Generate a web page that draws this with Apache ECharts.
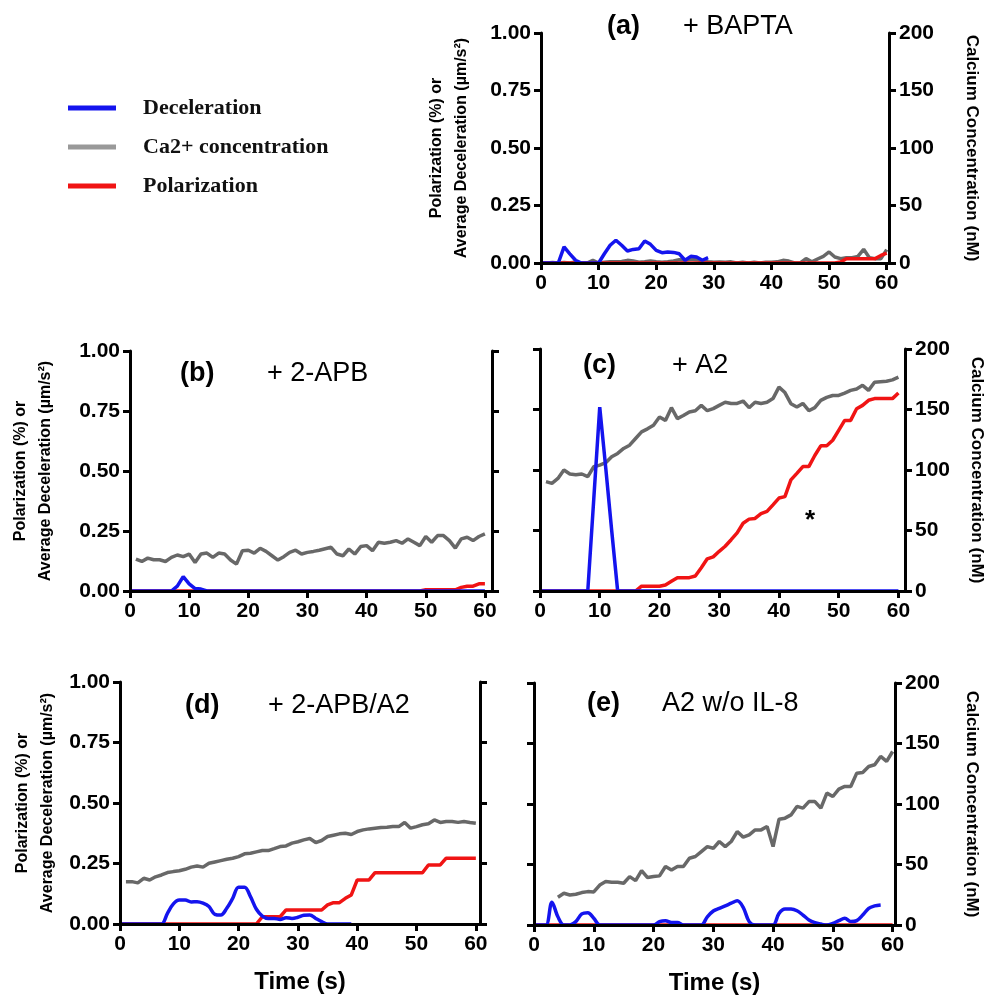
<!DOCTYPE html>
<html>
<head>
<meta charset="utf-8">
<script src="https://cdn.jsdelivr.net/npm/echarts@6/dist/echarts.min.js"></script>
<style>
  html, body { margin: 0; padding: 0; background: #fff; }
  #main { width: 987px; height: 996px; }
</style>
</head>
<body>
<div id="main"></div>
<script>
// time points (s), one per second
const seconds = [0,1,2,3,4,5,6,7,8,9,10,11,12,13,14,15,16,17,18,19,20,
  21,22,23,24,25,26,27,28,29,30,31,32,33,34,35,36,37,38,39,40,
  41,42,43,44,45,46,47,48,49,50,51,52,53,54,55,56,57,58,59,60];
const xTicks = [0, 10, 20, 30, 40, 50, 60];

// (a) + BAPTA
const aDecel = [0,0,0,0,0.07,0.04,0.012,0,0,0,0,0.04,0.077,0.099,0.077,0.052,0.059,0.062,0.096,0.081,0.055,
  0.045,0.048,0.046,0.04,0.012,0.029,0.026,0.012,0.023,null,null,null,null,null,null,null,null,null,null,null,
  null,null,null,null,null,null,null,null,null,null,null,null,null,null,null,null,null,null,null,null];
const aCalcium = [0,0,0.5,0,0.5,0,1,0,0,2.3,0,0.6,1,1,1.4,2.3,1.7,0.6,1,1.7,1,
  0.6,1,1.7,2.9,2.3,3.5,2.9,1.7,1,0.6,0.8,0.6,1,0,0.6,0,0.6,0,0.6,0.6,
  1,2.3,1.7,0,0,3.8,1,3.5,5.8,9.6,5.2,3.8,4.6,4.6,5.8,11.9,4.6,3.8,3.8,11.6];
const aPolar = [0,0,0,0,0,0,0,0,0,0,0,0,0,0,0,0,0,0,0,0,0,
  0,0,0,0,0,0,0,0,0,0,0,0,0,0,0,0,0,0,0,0,
  0,0,0,0,0,0,0,0,0,0,0,0.004,0.019,0.019,0.019,0.019,0.019,0.019,0.033,0.043];

// (b) + 2-APB
const bDecel = [0,0,0,0,0,0,0,0,0.02,0.06,0.03,0.01,0.008,0,0,0,0,0,0,0,0,
  0,0,0,0,0,0,0,0,0,0,0,0,0,0,0,0,0,0,0,0,
  0,0,0,0,0,0,0,0,0,0,0,0,0,0,0,0,0,0,0,0];
const bCalcium = [null,26.6,24.6,27.4,26,26,24.6,28,30,28.6,30.8,
  23.8,30.8,31.6,28,31.6,30.8,25.8,22.4,33.6,34,
  31.6,35.6,33,29.4,25.8,28.6,32.2,34,30.8,32.2,
  33,34,35.2,36.4,30.8,29.4,35,30.8,37,37.8,
  33.6,40.6,39.8,40.6,42,39.8,43.4,40.6,37.8,45.4,
  40.6,46.2,46.2,42,35.8,43.4,44.8,42,45.4,47.6];
const bPolar = [0,0,0,0,0,0,0,0,0,0,0,0,0,0,0,0,0,0,0,0,0,
  0,0,0,0,0,0,0,0,0,0,0,0,0,0,0,0,0,0,0,0,
  0,0,0,0,0,0,0,0,0,0.005,0.005,0.005,0.005,0.005,0.005,0.015,0.02,0.02,0.03,0.03];

// (c) + A2
const cDecel = [0,0,0,0,0,0,0,0,0,0.38,0.76,0.51,0.25,0,0,0,0,0,0,0,0,
  0,0,0,0,0,0,0,0,0,0,0,0,0,0,0,0,0,0,0,0,
  0,0,0,0,0,0,0,0,0,0,0,0,0,0,0,0,0,0,0,0];
const cCalcium = [null,90.4,89,93,100,96.7,96,96.7,94.5,102.7,104,
  106,111,113.7,117.8,120.5,126,131.5,134,137,143.8,
  141,151.5,142.5,145,148,149,153.4,149,150.7,153.4,
  156,155,155,157,151.5,156,155,156,159,168.5,
  164,154.8,152,155,149,151.5,157.5,160,161.6,161.6,
  163.6,165.8,167,170,165.8,172.6,173,173.4,174.5,176.7];
const cPolar = [0,0,0,0,0,0,0,0,0,0,0,0,0,0,0,0,0,0.02,0.02,0.02,0.02,
  0.025,0.04,0.055,0.055,0.055,0.062,0.096,0.133,0.141,0.164,
  0.185,0.212,0.24,0.28,0.297,0.3,0.32,0.329,0.356,0.384,
  0.39,0.459,0.486,0.514,0.514,0.56,0.6,0.6,0.623,0.664,
  0.705,0.705,0.753,0.767,0.788,0.795,0.795,0.795,0.795,0.818];

// (d) + 2-APB/A2
const dDecel = [0,0,0,0,0,0,0,0,0.044,0.083,0.099,0.099,0.091,0.092,0.086,0.072,0.04,0.037,0.065,0.106,0.152,
  0.152,0.113,0.061,0.033,0.023,0.023,0.019,0.026,0.023,0.028,0.036,0.037,0.023,0.01,0,0,0,0,0,null,
  null,null,null,null,null,null,null,null,null,null,null,null,null,null,null,null,null,null,null,null];
const dCalcium = [null,35,35,34,37.8,36.4,39,40.5,42.5,43.3,44,
  45.2,47,48,47,50.2,51.3,52.4,53.5,54.3,55.7,
  58,58.5,59.6,60.7,60.7,62.3,64,64.5,66.8,68,
  69.5,70.6,67.3,69,72.3,73.4,74.5,75,74,76.4,
  77.8,78.6,79.2,79.7,80,80.5,80.5,83.9,79.2,80.5,
  82,82.8,86,83.9,84.7,84.7,84,84.7,83.9,83.3];
const dPolar = [0,0,0,0,0,0,0,0,0,0,0,0,0,0,0,0,0,0,0,0,0,
  0,0,0,0.03,0.03,0.03,0.03,0.058,0.058,0.058,0.058,0.058,0.058,0.058,0.079,0.088,0.088,0.106,0.12,0.182,
  0.182,0.182,0.212,0.212,0.212,0.212,0.212,0.212,0.212,0.212,0.212,0.244,0.244,0.244,0.272,0.272,0.272,0.272,0.272,0.272];

// (e) A2 w/o IL-8
const eDecel = [0,0,0,0.094,0.034,0,0,0.014,0.046,0.051,0.028,0,0,0,0,0,0,0,0,0,0,
  0.014,0.018,0.01,0.01,0,0,0,0,0.034,0.058,0.069,0.079,0.09,0.1,0.073,0.014,0,0,0,0,
  0.048,0.066,0.066,0.059,0.041,0.021,0.01,0.004,0,0.007,0.018,0.028,0.014,0.018,0.041,0.069,0.079,0.083,null,null];
const eCalcium = [null,null,null,null,22.9,26.2,24.8,25.4,26.8,27.6,27.3,
  33,35.9,35.3,35.3,34.5,40,36.7,45,39.2,40,
  40.6,48.3,45.5,48.3,48.3,55.2,56.6,60.7,64.8,63.4,
  69,64.8,69,77.2,72.6,74.5,78.6,78.6,81.4,64.8,
  87.4,88.3,91,98,96.6,102,102,96.6,109,106.2,
  112.3,114.5,114.5,125.5,126,131,132.4,139.3,135.2,143.4];
const ePolar = [0,0,0,0,0,0,0,0,0,0,0,0,0,0,0,0,0,0,0,0,0,
  0,0,0,0,0,0,0,0,0,0,0,0,0,0,0,0,0,0,0,0,
  0,0,0,0,0,0,0,0,0,0,0,0,0,0,0,0,0,0,0,0];

const panels = [
  { label: '(a)', title: '+ BAPTA', decel: aDecel, calcium: aCalcium, polar: aPolar,
    grid: [541, 33, 348, 230], xMax: 60.4, leftLabels: true, rightLabels: true,
    lab: [607, 27], tit: [683, 27], leftGap: 67, rightGap: 74, timeTitle: false, smooth: false },
  { label: '(b)', title: '+ 2-APB', decel: bDecel, calcium: bCalcium, polar: bPolar,
    grid: [130, 351, 362, 240], xMax: 61.2, leftLabels: true, rightLabels: false,
    lab: [180, 374], tit: [267, 374], leftGap: 72, rightGap: 0, timeTitle: false, smooth: false },
  { label: '(c)', title: '+ A2', decel: cDecel, calcium: cCalcium, polar: cPolar,
    grid: [540, 349, 365, 242], xMax: 61.1, leftLabels: false, rightLabels: true,
    lab: [583, 366], tit: [672, 366], leftGap: 0, rightGap: 63, timeTitle: false, smooth: false },
  { label: '(d)', title: '+ 2-APB/A2', decel: dDecel, calcium: dCalcium, polar: dPolar,
    grid: [120, 682, 360, 242], xMax: 60.7, leftLabels: true, rightLabels: false,
    lab: [185, 706], tit: [268, 706], leftGap: 60, rightGap: 0, timeTitle: true, smooth: 0.35 },
  { label: '(e)', title: 'A2 w/o IL-8', decel: eDecel, calcium: eCalcium, polar: ePolar,
    grid: [534, 683, 361, 242], xMax: 60.4, leftLabels: false, rightLabels: true,
    lab: [587, 704], tit: [662, 704], leftGap: 0, rightGap: 68, timeTitle: true, smooth: 0.35 }
];

const SANS = '"Liberation Sans", Arial, sans-serif';
const SERIF = '"Liberation Serif", "Times New Roman", serif';
const BLUE = '#1414ee';
const GRAY = '#686868';
const RED = '#f01414';
const axisLine = { show: true, onZero: false, lineStyle: { color: '#000', width: 3 } };
const axisTick = { show: true, length: 7, lineStyle: { color: '#000', width: 3 } };
const tickFont = { color: '#000', fontFamily: SANS, fontSize: 21, fontWeight: 'bold' };

const grids = [], xAxes = [], yAxes = [], series = [], titles = [];

panels.forEach((p, i) => {
  grids.push({ left: p.grid[0], top: p.grid[1], width: p.grid[2], height: p.grid[3] });

  xAxes.push({
    gridIndex: i, type: 'value', min: 0, max: p.xMax, z: 5,
    axisLine: axisLine,
    axisTick: Object.assign({ customValues: xTicks }, axisTick),
    axisLabel: Object.assign({ customValues: xTicks, margin: 10 }, tickFont),
    splitLine: { show: false },
    name: p.timeTitle ? 'Time (s)' : '',
    nameLocation: 'middle', nameGap: 46,
    nameTextStyle: { color: '#000', fontFamily: SANS, fontSize: 24, fontWeight: 'bold' }
  });

  yAxes.push({
    gridIndex: i, type: 'value', position: 'left', min: 0, max: 1, interval: 0.25, z: 5,
    axisLine: axisLine, axisTick: axisTick,
    axisLabel: Object.assign({ show: p.leftLabels, margin: 10, formatter: v => v.toFixed(2) }, tickFont),
    splitLine: { show: false },
    name: p.leftLabels ? 'Polarization (%) or\nAverage Deceleration (\u00b5m/s\u00b2)' : '',
    nameLocation: 'middle', nameRotate: 90, nameGap: p.leftGap,
    nameTextStyle: { color: '#000', fontFamily: SANS, fontSize: 16, fontWeight: 'bold', lineHeight: 25 }
  });

  yAxes.push({
    gridIndex: i, type: 'value', position: 'right', min: 0, max: 200, interval: 50, z: 5,
    axisLine: axisLine, axisTick: axisTick,
    axisLabel: Object.assign({ show: p.rightLabels, margin: 10 }, tickFont),
    splitLine: { show: false },
    name: p.rightLabels ? 'Calcium Concentration (nM)' : '',
    nameLocation: 'middle', nameRotate: -90, nameGap: p.rightGap,
    nameTextStyle: { color: '#000', fontFamily: SANS, fontSize: 17, fontWeight: 'bold' }
  });

  const mk = (name, values, yIdx, color, smooth) => ({
    name: name, type: 'line', xAxisIndex: i, yAxisIndex: yIdx,
    data: seconds.map((t, k) => [t, values[k]]),
    symbol: 'none', smooth: smooth, animation: false,
    lineStyle: { color: color, width: 3.5 }, itemStyle: { color: color }
  });
  series.push(mk('Ca2+ concentration', p.calcium, 2 * i + 1, GRAY, false));
  series.push(mk('Polarization', p.polar, 2 * i, RED, false));
  series.push(mk('Deceleration', p.decel, 2 * i, BLUE, p.smooth));

  titles.push({ text: p.label, left: p.lab[0], top: p.lab[1] - 15, padding: 0,
    textStyle: { color: '#000', fontFamily: SANS, fontSize: 27, fontWeight: 'bold', lineHeight: 30 } });
  titles.push({ text: p.title, left: p.tit[0], top: p.tit[1] - 15, padding: 0,
    textStyle: { color: '#000', fontFamily: SANS, fontSize: 27, fontWeight: 'normal', lineHeight: 30 } });
});

// significance mark in panel (c)
titles.push({ text: '*', left: 805, top: 508, padding: 0,
  textStyle: { color: '#000', fontFamily: SANS, fontSize: 26, fontWeight: 'bold' } });

const myChart = echarts.init(document.getElementById('main'));
const option = {
  backgroundColor: '#fff',
  animation: false,
  title: titles,
  legend: {
    orient: 'vertical', left: 68, top: 97, padding: 0,
    itemWidth: 48, itemHeight: 5, itemGap: 17, icon: 'rect',
    textStyle: { color: '#111', fontFamily: SERIF, fontSize: 22, fontWeight: 'bold', padding: [0, 0, 0, 22] },
    data: [
      { name: 'Deceleration', itemStyle: { color: BLUE } },
      { name: 'Ca2+ concentration', itemStyle: { color: '#999' } },
      { name: 'Polarization', itemStyle: { color: RED } }
    ]
  },
  grid: grids,
  xAxis: xAxes,
  yAxis: yAxes,
  series: series
};
option && myChart.setOption(option);
</script>
</body>
</html>
